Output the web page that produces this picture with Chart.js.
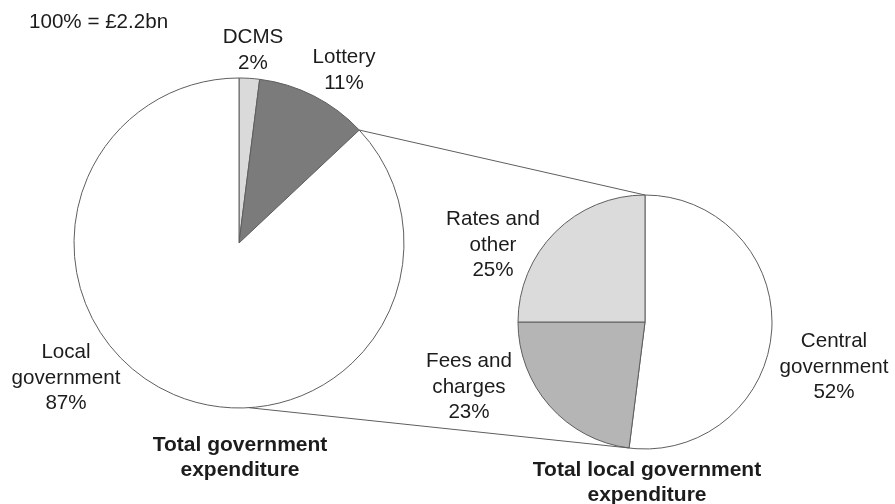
<!DOCTYPE html>
<html>
<head>
<meta charset="utf-8">
<script src="https://cdn.jsdelivr.net/npm/chart.js@4.4.1/dist/chart.umd.min.js"></script>
<style>
  html, body { margin: 0; padding: 0; background: #fff; }
  #wrap { position: relative; width: 895px; height: 504px; }
  #wrap canvas { position: absolute; left: 0; top: 0; }
</style>
</head>
<body>
<div id="wrap">
  <canvas id="totalChart" width="895" height="504"></canvas>
  <canvas id="localChart" width="895" height="504"></canvas>
</div>
<script>
// spending split, in percent
const totalLabels = ['DCMS', 'Lottery', ['Local', 'government']]
const totalValues = [2, 11, 87]
const totalColors = ['#dadada', '#7b7b7b', '#ffffff']

const localLabels = [['Central', 'government'], ['Fees and', 'charges'], ['Rates and', 'other']]
const localValues = [52, 23, 25]
const localColors = ['#ffffff', '#b5b5b5', '#dadbda']

const totalTitle = ['Total government', 'expenditure']
const localTitle = ['Total local government', 'expenditure']
const baseNote = '100% = £2.2bn'

const fontFamily = "'Liberation Sans', Arial, Helvetica, sans-serif"
const lineHeight = 25.5

Chart.defaults.font.family = fontFamily

// slice names + value under them, plus the bold caption below each pie
const sliceLabels = {
  id: 'sliceLabels',
  afterDatasetsDraw(chart, args, opts) {
    const { ctx } = chart
    const arc = chart.getDatasetMeta(0).data[0]
    const cx = arc.x
    const cy = arc.y
    const values = chart.data.datasets[0].data
    ctx.save()
    ctx.fillStyle = '#1c1c1c'
    ctx.textAlign = 'center'
    ctx.textBaseline = 'alphabetic'
    ctx.font = '20.6px ' + fontFamily
    chart.data.labels.forEach((label, i) => {
      const lines = [].concat(label, values[i] + '%')
      const [dx, dy] = opts.offsets[i]
      lines.forEach((t, j) => ctx.fillText(t, cx + dx, cy + dy + j * lineHeight))
    })
    if (opts.note) {
      ctx.textAlign = 'left'
      ctx.fillText(opts.note.text, cx + opts.note.dx, cy + opts.note.dy)
      ctx.textAlign = 'center'
    }
    ctx.font = 'bold 21px ' + fontFamily
    opts.title.lines.forEach((t, j) => {
      ctx.fillText(t, cx + opts.title.dx, cy + opts.title.dy + j * 24.5)
    })
    ctx.restore()
  }
}

function pieOptions(padding, labelOpts) {
  return {
    responsive: false,
    animation: false,
    events: [],
    layout: { padding: padding },
    plugins: {
      legend: { display: false },
      tooltip: { enabled: false },
      sliceLabels: labelOpts
    }
  }
}

const totalChart = new Chart(document.getElementById('totalChart'), {
  type: 'pie',
  plugins: [sliceLabels],
  data: {
    labels: totalLabels,
    datasets: [{
      data: totalValues,
      backgroundColor: totalColors,
      borderColor: '#5e5e5e',
      borderWidth: 1
    }]
  },
  options: pieOptions(
    { left: 73.5, top: 77.5, right: 490.5, bottom: 95.5 },
    {
      offsets: [[14, -200], [105, -180], [-173, 115]],
      title: { lines: totalTitle, dx: 1, dy: 208 },
      note: { text: baseNote, dx: -210, dy: -215 }
    }
  )
})

// lines joining the local government slice to the breakdown pie
const connectors = {
  id: 'connectors',
  afterDatasetsDraw(chart) {
    const { ctx } = chart
    const big = totalChart.getDatasetMeta(0).data
    const small = chart.getDatasetMeta(0).data
    const pt = (arc, angle) => [arc.x + Math.cos(angle) * arc.outerRadius, arc.y + Math.sin(angle) * arc.outerRadius]

    const lottery = big[1]
    const first = small[0]
    const fees = small[1]
    const a1 = pt(lottery, lottery.endAngle)
    const a2 = pt(first, first.startAngle)
    const b1 = pt(big[2], Math.PI / 2 - 0.06)
    const b2 = pt(fees, fees.startAngle)

    ctx.save()
    ctx.strokeStyle = '#5e5e5e'
    ctx.lineWidth = 1
    ctx.beginPath()
    ctx.moveTo(a1[0], a1[1])
    ctx.lineTo(a2[0], a2[1])
    ctx.moveTo(b1[0], b1[1])
    ctx.lineTo(b2[0], b2[1])
    ctx.stroke()
    ctx.restore()
  }
}

const localChart = new Chart(document.getElementById('localChart'), {
  type: 'pie',
  plugins: [connectors, sliceLabels],
  data: {
    labels: localLabels,
    datasets: [{
      data: localValues,
      backgroundColor: localColors,
      borderColor: '#5e5e5e',
      borderWidth: 1
    }]
  },
  options: pieOptions(
    { left: 517.5, top: 194.5, right: 122.5, bottom: 54.5 },
    {
      offsets: [[189, 25], [-176, 45], [-152, -97]],
      title: { lines: localTitle, dx: 2, dy: 154 }
    }
  )
})
</script>
</body>
</html>
